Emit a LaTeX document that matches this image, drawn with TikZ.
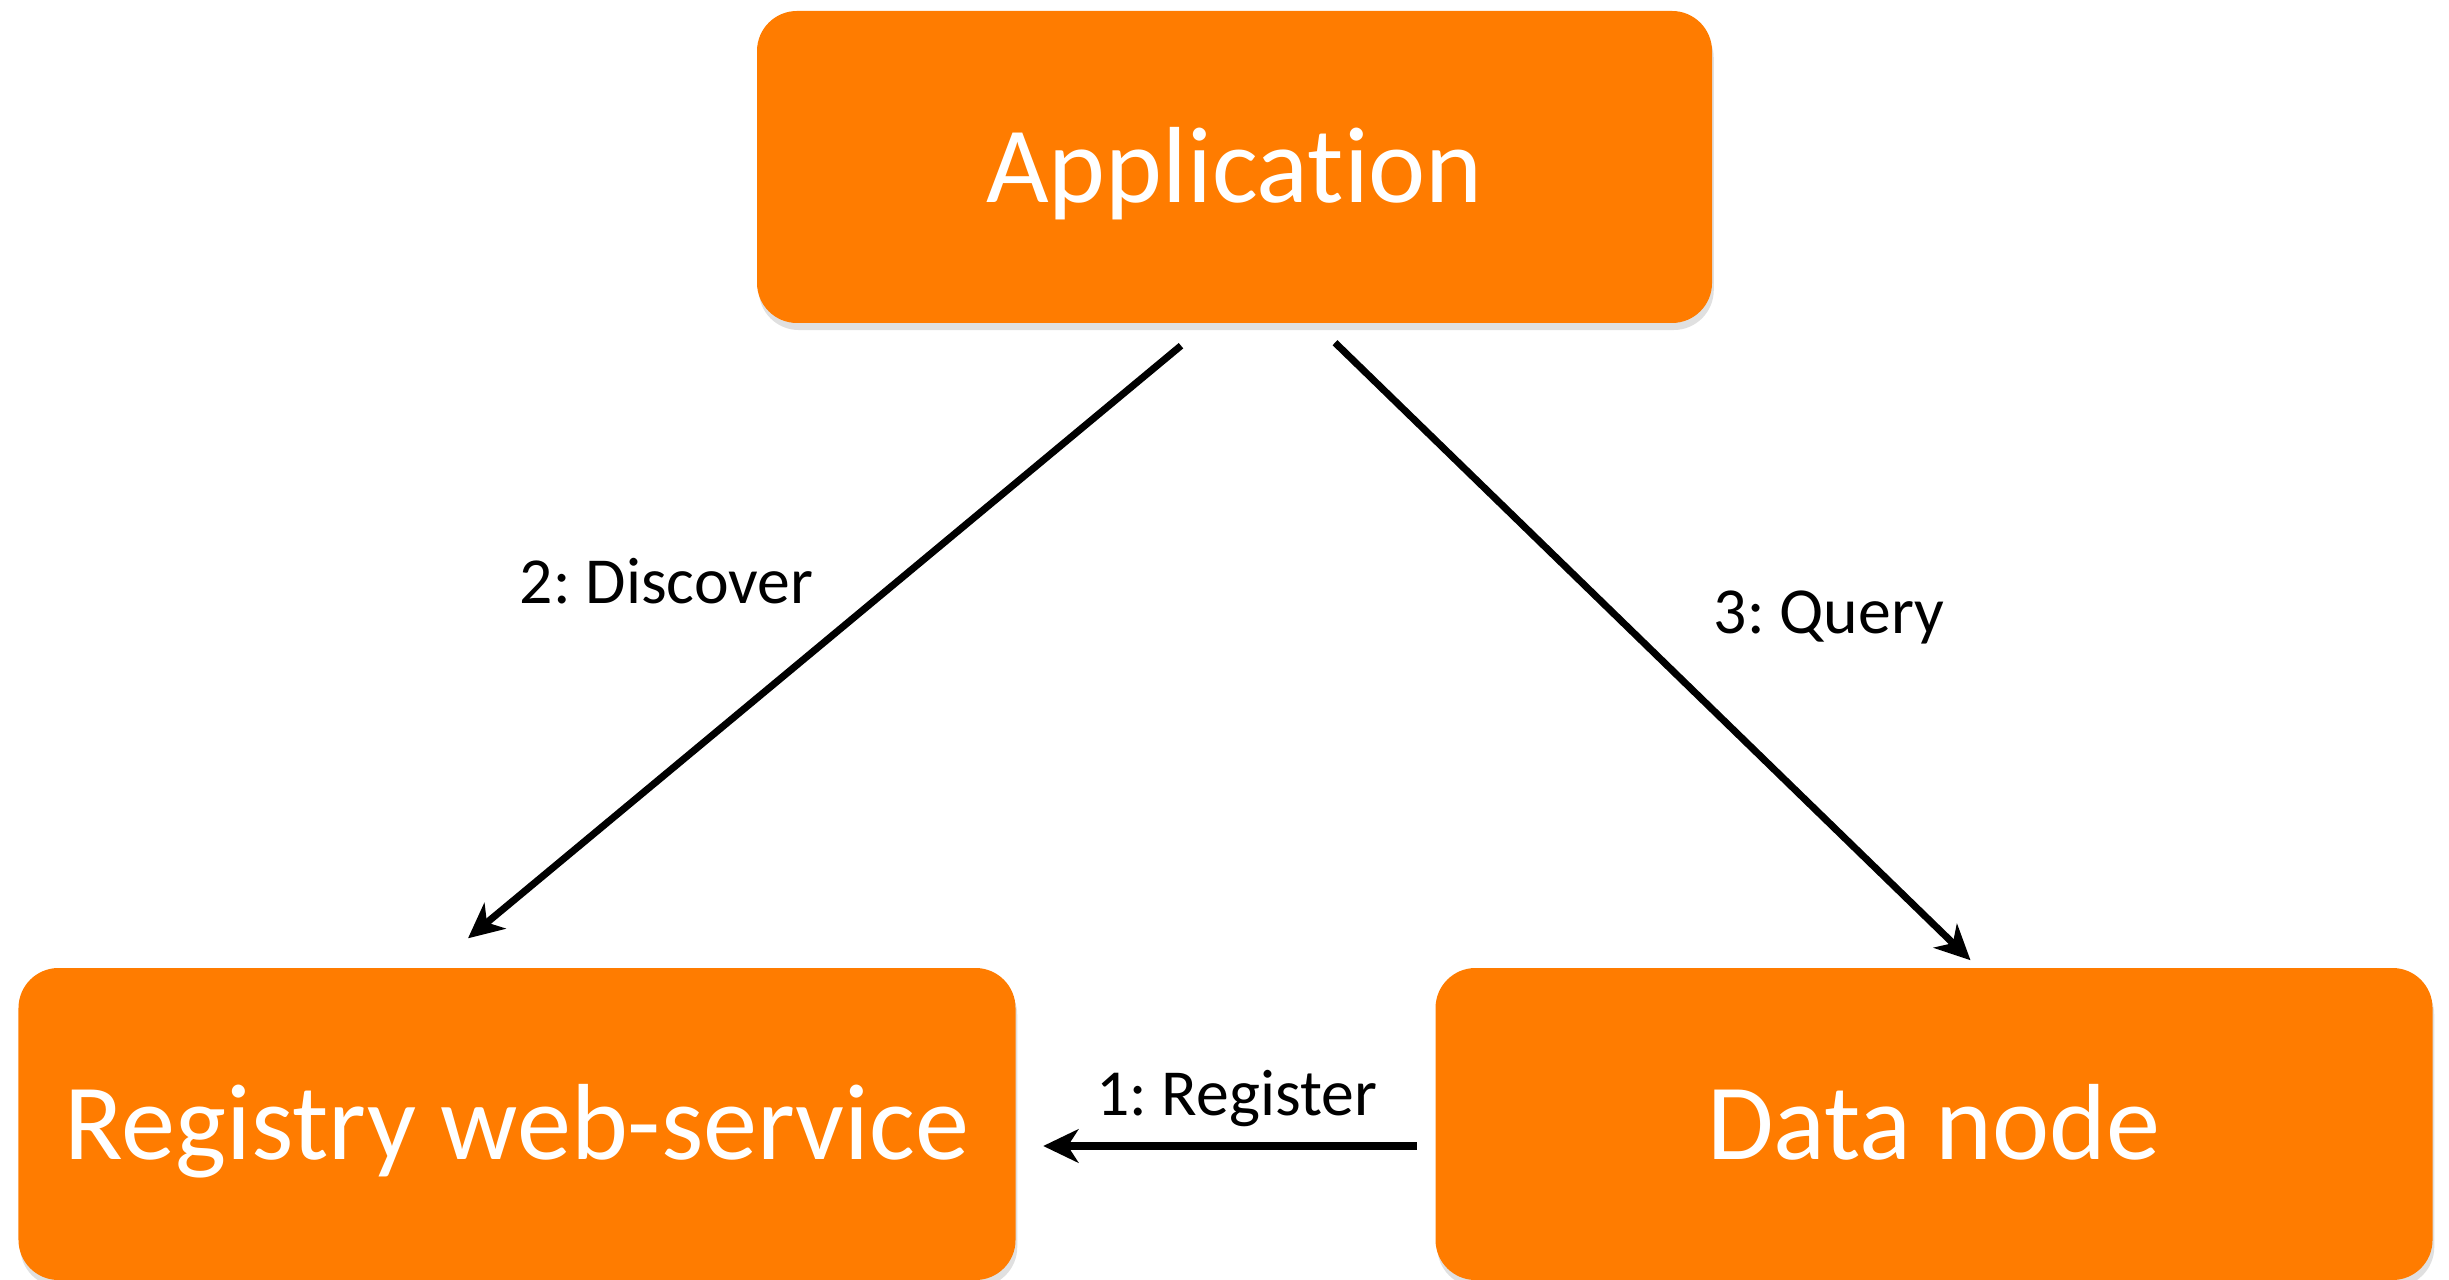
\documentclass[tikz,border=0pt]{standalone}
\usepackage{fontspec}
\setmainfont{Carlito}[Ligatures={NoCommon,TeX}]
\usetikzlibrary{arrows.meta,shadows}

\definecolor{boxorange}{RGB}{255,124,0}
\frenchspacing

\begin{document}
\begin{tikzpicture}

\tikzset{mybox/.style={rectangle,rounded corners=0.4cm,minimum width=9.97cm,minimum height=3.12cm,inner sep=0pt,fill=boxorange,text=white,font=\fontsize{30.8}{36}\selectfont,text height=21pt,text depth=1pt,drop shadow={shadow xshift=0.5pt,shadow yshift=-2pt,opacity=0.12,fill=black}},}
\tikzset{mylabel/.style={inner sep=0pt,anchor=base,font=\fontsize{18.7}{22}\selectfont},}
\tikzset{myarrow/.style={-{Stealth[length=10pt,width=9.5pt,inset=3pt]},line width=2pt},}

\useasboundingbox (0,0) rectangle (24.49,-12.80);

%BOXES
\draw (12.345,-1.67) node [mybox,minimum width=9.55cm] (app) {Application};
\draw (5.17,-11.24) node [mybox] (reg) {Registry web-service};
\draw (19.34,-11.24) node [mybox] (data) {Data node};

%ARROWS
\draw[myarrow] ([xshift=-0.18cm,yshift=-0.22cm]data.west) -- ([xshift=0.27cm,yshift=-0.22cm]reg.east);
\draw[myarrow] ([xshift=-0.535cm,yshift=-0.22cm]app.south) -- ([xshift=-0.49cm,yshift=0.29cm]reg.north);
\draw[myarrow] ([xshift=1.005cm,yshift=-0.19cm]app.south) -- ([xshift=0.365cm,yshift=0.07cm]data.north);

%LABELS
\draw (12.365,-11.15) node [mylabel] (l1) {1: Register};
\draw (6.665,-6.04) node [mylabel] (l2) {2: Discover};
\draw (18.29,-6.34) node [mylabel] (l3) {3: Query};

\end{tikzpicture}
\end{document}
